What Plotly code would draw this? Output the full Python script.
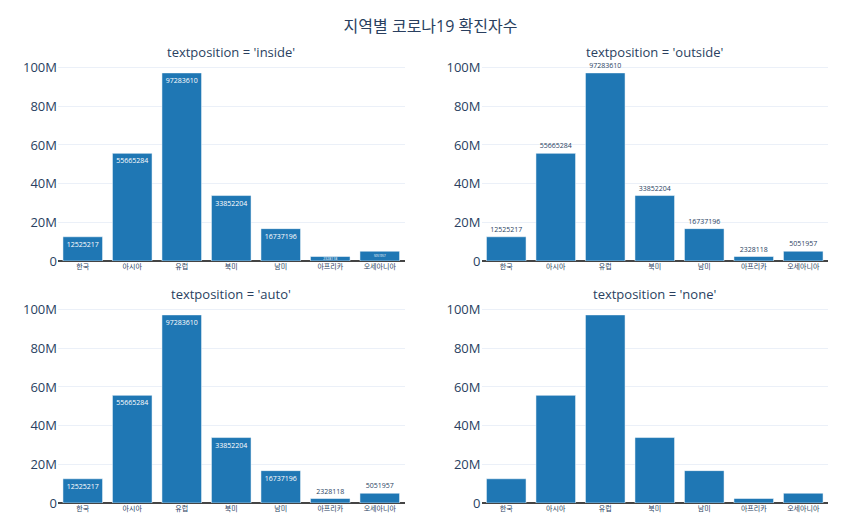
import plotly.graph_objects as go
from plotly.subplots import make_subplots

regions = ['한국', '아시아', '유럽', '북미', '남미', '아프리카', '오세아니아']
cases = [12525217, 55665284, 97283610, 33852204, 16737196, 2328118, 5051957]
positions = ['inside', 'outside', 'auto', 'none']

fig = make_subplots(rows=2, cols=2,
                    subplot_titles=[f"textposition = '{p}'" for p in positions],
                    vertical_spacing=0.1, horizontal_spacing=0.1)

for i, p in enumerate(positions):
    fig.add_trace(go.Bar(x=regions, y=cases, text=cases, textposition=p,
                         textangle=0, textfont=dict(size=7),
                         insidetextanchor='end',
                         marker_color='#1f77b4', showlegend=False),
                  row=i // 2 + 1, col=i % 2 + 1)

fig.update_layout(template='plotly_white',
                  title=dict(text='지역별 코로나19 확진자수', x=0.5, y=0.975,
                             font=dict(size=16)),
                  font=dict(family='Open Sans, Noto Sans CJK KR'),
                  margin=dict(l=50, r=25, t=55, b=25),
                  width=845, height=520, bargap=0.2,
                  uniformtext=dict(minsize=4))
fig.update_annotations(font_size=13)
fig.update_xaxes(tickfont=dict(size=7))
fig.update_yaxes(tickfont=dict(size=13), zeroline=True, zerolinecolor='#444')
fig.write_html("out.html")
